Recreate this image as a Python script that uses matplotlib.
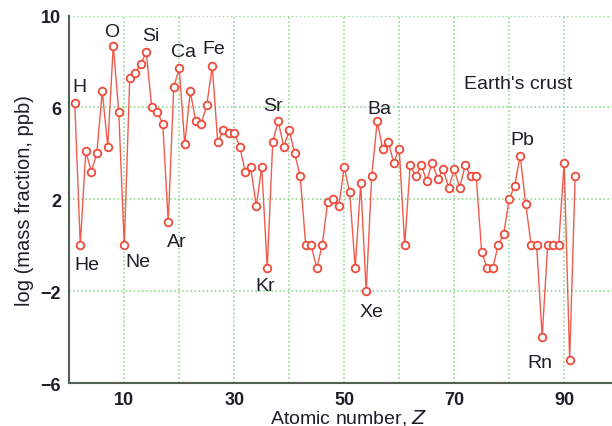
import numpy as np
import matplotlib.pyplot as plt
import matplotlib as mpl

mpl.rcParams['font.family'] = ['Liberation Sans', 'DejaVu Sans']

# log10 of crustal mass fraction (ppb), Z = 1..92
log_ppb = [6.2, 0.0, 4.1, 3.2, 4.0, 6.7, 4.3, 8.7, 5.8, 0.0,
           7.3, 7.5, 7.9, 8.4, 6.0, 5.8, 5.3, 1.0, 6.9, 7.7,
           4.4, 6.7, 5.4, 5.3, 6.1, 7.8, 4.5, 5.0, 4.9, 4.9,
           4.3, 3.2, 3.4, 1.7, 3.4, -1.0, 4.5, 5.4, 4.3, 5.0,
           4.0, 3.0, 0.0, 0.0, -1.0, 0.0, 1.9, 2.0, 1.7, 3.4,
           2.3, -1.0, 2.7, -2.0, 3.0, 5.4, 4.2, 4.5, 3.6, 4.2,
           0.0, 3.5, 3.0, 3.5, 2.8, 3.6, 2.9, 3.3, 2.5, 3.3,
           2.5, 3.5, 3.0, 3.0, -0.3, -1.0, -1.0, 0.0, 0.5, 2.0,
           2.6, 3.9, 1.8, 0.0, 0.0, -4.0, 0.0, 0.0, 0.0, 3.6,
           -5.0, 3.0]
Z = np.arange(1, len(log_ppb) + 1)

# element labels: (symbol, x, y) in data units
labels = [('H', 1.8, 6.9), ('He', 3.2, -0.85), ('O', 7.8, 9.3), ('Ne', 12.4, -0.7),
          ('Si', 14.8, 9.15), ('Ar', 19.6, 0.15), ('Ca', 20.7, 8.45), ('Fe', 26.2, 8.55),
          ('Sr', 37.1, 6.1), ('Kr', 35.6, -1.75), ('Ba', 56.4, 5.97), ('Xe', 54.9, -2.9),
          ('Pb', 82.3, 4.6), ('Rn', 85.6, -5.1)]

red = '#ee4a3a'
grid_c = '#86d086'
txt = '#1e1e28'

fig = plt.figure(figsize=(6.12, 4.27), dpi=100)
ax = fig.add_axes([0.1132, 0.1007, 0.8868, 0.8603])

ax.plot(Z, log_ppb, '-', color=red, lw=1.0, alpha=0.9, zorder=3)
ax.plot(Z, log_ppb, 'o', ms=5.5, mfc='white', mec=red, mew=1.3, zorder=4)

for sym, x, y in labels:
    ax.text(x, y, sym, fontsize=14, color=txt, ha='center', va='center')
ax.text(81.6, 7.05, "Earth's crust", fontsize=14, color=txt, ha='center', va='center')

ax.set_xlim(0, 98.7)
ax.set_ylim(-6, 10)
ax.set_xticks(range(10, 100, 10))
ax.set_xticklabels([str(v) if v % 20 == 10 else '' for v in range(10, 100, 10)])
ax.set_yticks([-6, -2, 2, 6, 10])
ax.set_yticklabels(['\u22126', '\u22122', '2', '6', '10'])
ax.tick_params(length=0, labelsize=13, colors=txt, pad=6)
for lab in ax.get_xticklabels() + ax.get_yticklabels():
    lab.set_fontweight('bold')

ax.grid(True, color=grid_c, ls=':', lw=1.1, zorder=0)
for s in ['top', 'right']:
    ax.spines[s].set_visible(False)
for s in ['left', 'bottom']:
    ax.spines[s].set_color('#556055')
    ax.spines[s].set_linewidth(1.5)

ax.set_xlabel('Atomic number, $\\it{Z}$', fontsize=14, color=txt, labelpad=0)
ax.xaxis.set_label_coords(0.515, -0.065)
ax.xaxis.label.set_va('top')
ax.set_ylabel('log (mass fraction, ppb)', fontsize=14.5, color=txt, labelpad=5)

fig.savefig('out.png', dpi=100)
